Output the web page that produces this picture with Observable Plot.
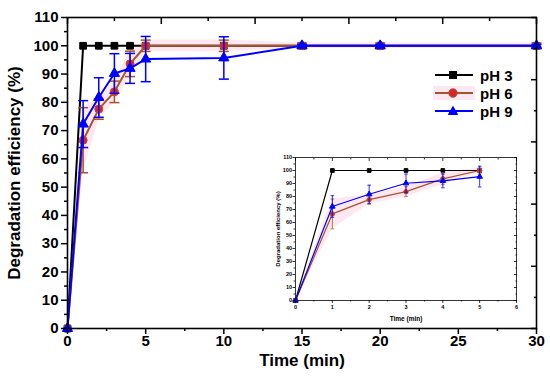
<!DOCTYPE html>
<html>
<head>
<meta charset="utf-8">
<script src="https://cdn.jsdelivr.net/npm/d3@7"></script>
<script src="https://cdn.jsdelivr.net/npm/@observablehq/plot@0.6"></script>
<style>
  body { margin: 0; background: #fff; font-family: "Liberation Sans", Arial, sans-serif; }
  #wrap { position: relative; width: 550px; height: 384px; overflow: hidden; }
  #inset { position: absolute; left: 262px; top: 148px; }
  #legend { position: absolute; left: 433px; top: 66px; font: bold 15px "Liberation Sans", Arial, sans-serif; color: #000; }
  .lrow { display: flex; align-items: center; height: 18px; }
  .lrow span { margin-left: 5px; }
</style>
</head>
<body>
<div id="wrap"></div>
<script>
// ---- data ----
const time   = [0, 1, 2, 3, 4, 5, 10, 15, 20, 30];
const ph3    = [0, 100, 100, 100, 100, 100, 100, 100, 100, 100];
const ph3Err = [0, 0, 0, 0, 0, 0, 0, 0, 0, 0];
const ph6    = [0, 66.6, 77.6, 83.7, 93.6, 100, 100, 100, 100, 100];
const ph6Err = [0, 11.5, 3.6, 3.8, 4.5, 2, 2, 1, 1, 1];
const ph9    = [0, 72.3, 81.7, 90.2, 92.0, 95.3, 95.7, 100, 100, 100];
const ph9Err = [0, 8.3, 7.0, 7.0, 5.3, 8.0, 7.5, 0.5, 0.5, 0.5];
const seriesNames = ["pH 3", "pH 6", "pH 9"];

// tick values
const xTicks = [0, 5, 10, 15, 20, 25, 30];
const xMinor = [2.5, 7.5, 12.5, 17.5, 22.5, 27.5];
const yTicks = [0, 10, 20, 30, 40, 50, 60, 70, 80, 90, 100, 110];
const yMinor = [5, 15, 25, 35, 45, 55, 65, 75, 85, 95, 105];
const topTicks = [0, 6, 12, 18, 24, 30];
const topMinor = [3, 9, 15, 21, 27];
const rightTicks = [0, 22, 44, 66, 88, 110];
const rightMinor = [11, 33, 55, 77, 99];
const insetXTicks = [0, 1, 2, 3, 4, 5, 6];
const insetXMinor = [0.5, 1.5, 2.5, 3.5, 4.5, 5.5];
const insetMaxTime = 5;

const xTitle = "Time (min)";
const yTitle = "Degradation efficiency (%)";

// ---- styles ----
const styles = [
  {line: "#000000", fill: "#000000", mstroke: "#000000", symbol: "square"},
  {line: "#a9532c", fill: "#d8232a", mstroke: "#a9532c", symbol: "circle"},
  {line: "#0000ff", fill: "#0000ff", mstroke: "#0000ff", symbol: "triangle"}
];
const bandFill = "#fde8f1";
const values = [ph3, ph6, ph9];
const errors = [ph3Err, ph6Err, ph9Err];

const series = seriesNames.map((name, k) => ({
  name, ...styles[k],
  rows: time.map((t, i) => ({t, v: values[k][i], e: errors[k][i]}))
}));

const cap = (w) => ({draw(ctx) { ctx.moveTo(-w, 0); ctx.lineTo(w, 0); }});

function seriesMarks(s, o) {
  const rows = s.rows.filter(o.filter);
  const er = rows.filter(d => d.e > 0);
  return [
    Plot.line(rows, {x: "t", y: "v", stroke: s.line, strokeWidth: o.lw}),
    Plot.ruleX(er, {x: "t", y1: d => d.v - d.e, y2: d => d.v + d.e, stroke: s.line, strokeWidth: o.ew}),
    Plot.dot(er, {x: "t", y: d => d.v + d.e, symbol: cap(o.cap), r: 1, fill: "none", stroke: s.line, strokeWidth: o.ew}),
    Plot.dot(er, {x: "t", y: d => d.v - d.e, symbol: cap(o.cap), r: 1, fill: "none", stroke: s.line, strokeWidth: o.ew}),
    Plot.dot(rows, {x: "t", y: "v", symbol: s.symbol, r: s.symbol === "circle" ? o.r : o.r * 0.95,
      fill: s.fill, stroke: s.mstroke, strokeWidth: 1})
  ];
}

function bandMark(o) {
  const s = series[1];
  const rows = s.rows.filter(o.filter);
  return Plot.areaY(rows, {x: "t", y1: d => d.v - d.e, y2: d => d.v + d.e, fill: bandFill});
}

// ---- main chart ----
const mainOpts = {filter: () => true, lw: 2, ew: 1.5, cap: 5, r: 4};
const main = Plot.plot({
  width: 550, height: 384,
  marginLeft: 67, marginRight: 14, marginTop: 17, marginBottom: 56,
  x: {domain: [0, 30]},
  y: {domain: [0, 110]},
  style: {fontFamily: "'Liberation Sans', Arial, sans-serif", fontWeight: "bold", color: "#000", background: "transparent", overflow: "visible"},
  marks: [
    bandMark(mainOpts),
    ...series.flatMap(s => seriesMarks(s, mainOpts)),
    Plot.frame({stroke: "#000", strokeWidth: 1.6}),
    Plot.axisX(xTicks, {tickSize: 6, tickPadding: 1, strokeWidth: 1.5, label: null, fontSize: 15}),
    Plot.axisX(xMinor, {tickSize: 3, strokeWidth: 1.5, fill: "none", label: null}),
    Plot.axisX(topTicks, {anchor: "top", tickSize: -6, strokeWidth: 1.5, fill: "none", label: null}),
    Plot.axisX(topMinor, {anchor: "top", tickSize: -3, strokeWidth: 1.5, fill: "none", label: null}),
    Plot.axisY(yTicks, {tickSize: 6, tickPadding: 3, strokeWidth: 1.5, label: null, fontSize: 15}),
    Plot.axisY(yMinor, {tickSize: 3, strokeWidth: 1.5, fill: "none", label: null}),
    Plot.axisY(rightTicks, {anchor: "right", tickSize: -6, strokeWidth: 1.5, fill: "none", label: null}),
    Plot.axisY(rightMinor, {anchor: "right", tickSize: -3, strokeWidth: 1.5, fill: "none", label: null}),
    Plot.text([xTitle], {frameAnchor: "bottom", lineAnchor: "middle", textAnchor: "middle", dy: 32, fontSize: 17, fontWeight: "bold"}),
    Plot.text([yTitle], {frameAnchor: "left", lineAnchor: "middle", textAnchor: "middle", rotate: -90, dx: -53, fontSize: 17, fontWeight: "bold"})
  ]
});

// ---- inset chart ----
const insetOpts = {filter: d => d.t <= insetMaxTime, lw: 1.2, ew: 0.8, cap: 1.8, r: 2.2};
const inset = Plot.plot({
  width: 262, height: 180,
  marginLeft: 33, marginRight: 8, marginTop: 9, marginBottom: 28,
  x: {domain: [0, 6]},
  y: {domain: [0, 110]},
  style: {fontFamily: "'Liberation Sans', Arial, sans-serif", fontWeight: "bold", color: "#000", background: "transparent", overflow: "visible"},
  marks: [
    bandMark(insetOpts),
    ...series.flatMap(s => seriesMarks(s, insetOpts)),
    Plot.frame({stroke: "#222", strokeWidth: 0.9}),
    Plot.axisX(insetXTicks, {tickSize: 3, tickPadding: 2, strokeWidth: 0.8, label: null, fontSize: 5.5}),
    Plot.axisX(insetXMinor, {tickSize: 1.5, strokeWidth: 0.8, fill: "none", label: null}),
    Plot.axisX(insetXTicks, {anchor: "top", tickSize: -3, strokeWidth: 0.8, fill: "none", label: null}),
    Plot.axisX(insetXMinor, {anchor: "top", tickSize: -1.5, strokeWidth: 0.8, fill: "none", label: null}),
    Plot.axisY(yTicks, {tickSize: 2.5, tickPadding: 1, strokeWidth: 0.8, label: null, fontSize: 5.5}),
    Plot.axisY(yMinor, {tickSize: 1.5, strokeWidth: 0.8, fill: "none", label: null}),
    Plot.axisY(yTicks, {anchor: "right", tickSize: -3, strokeWidth: 0.8, fill: "none", label: null}),
    Plot.axisY(yMinor, {anchor: "right", tickSize: -1.5, strokeWidth: 0.8, fill: "none", label: null}),
    Plot.text([xTitle], {frameAnchor: "bottom", lineAnchor: "middle", textAnchor: "middle", dy: 18, fontSize: 6.5, fontWeight: "bold"}),
    Plot.text([yTitle], {frameAnchor: "left", lineAnchor: "middle", textAnchor: "middle", rotate: -90, dx: -17, fontSize: 6, fontWeight: "bold"})
  ]
});

const wrap = document.getElementById("wrap");
wrap.appendChild(main);
inset.id = "inset";
wrap.appendChild(inset);

// ---- legend ----
const legend = document.createElement("div");
legend.id = "legend";
series.forEach((s, k) => {
  const row = document.createElement("div");
  row.className = "lrow";
  const sym = s.symbol === "square"
    ? `<rect x="16.5" y="5.5" width="7" height="7" fill="${s.fill}" stroke="${s.mstroke}"/>`
    : s.symbol === "circle"
    ? `<circle cx="20" cy="9" r="4.2" fill="${s.fill}" stroke="${s.mstroke}"/>`
    : `<path d="M20,4.5 L24.6,12.5 L15.4,12.5 Z" fill="${s.fill}" stroke="${s.mstroke}"/>`;
  const bg = k === 1 ? `<rect x="0" y="2" width="42" height="14" fill="${bandFill}"/>` : "";
  row.innerHTML = `<svg width="42" height="18">${bg}<line x1="2" x2="40" y1="9" y2="9" stroke="${s.line}" stroke-width="2"/>${sym}</svg><span>${s.name}</span>`;
  legend.appendChild(row);
});
wrap.appendChild(legend);
</script>
</body>
</html>
